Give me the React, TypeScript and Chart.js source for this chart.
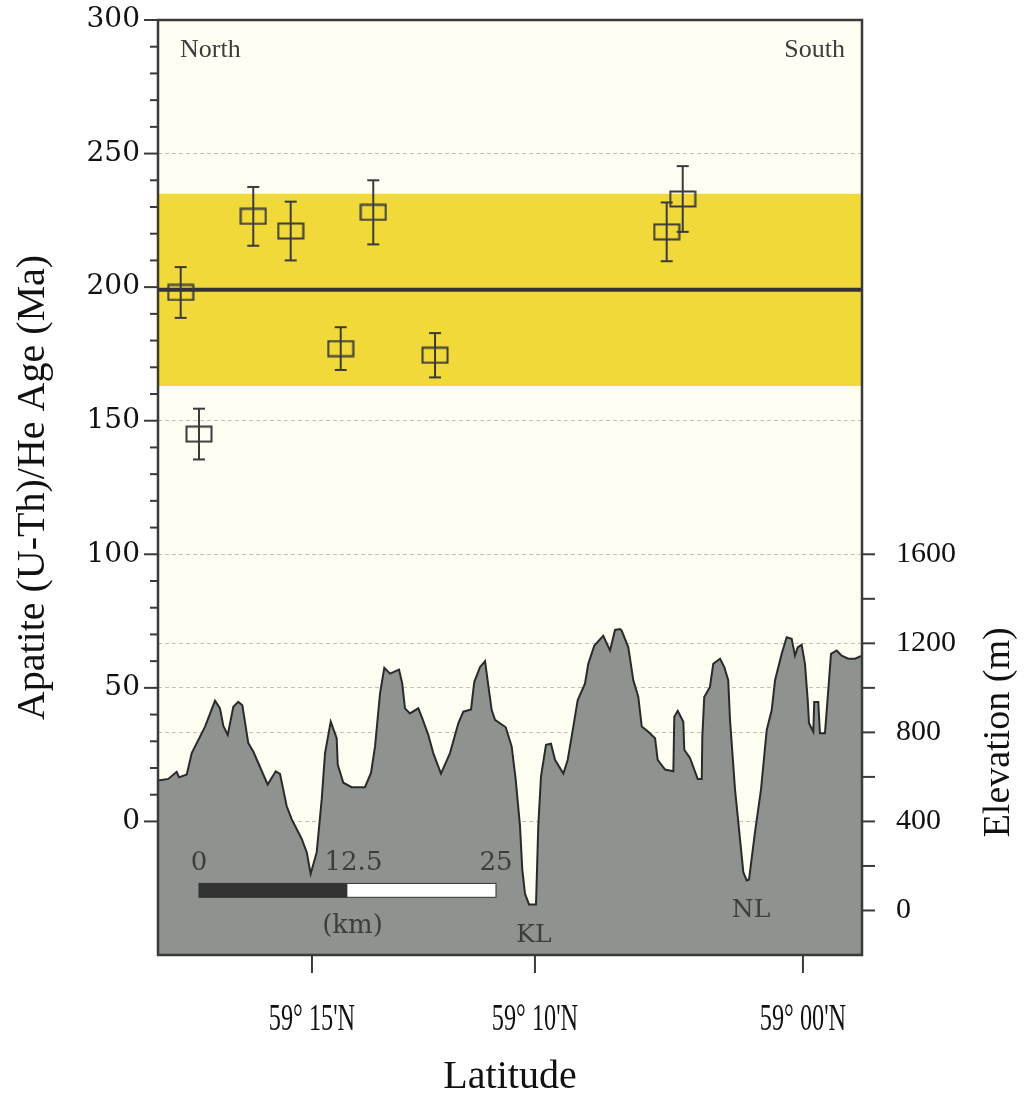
import { useEffect, useRef } from "react";
import { Chart, registerables } from "chart.js";

Chart.register(...registerables);

// ---------------- data ----------------
// (U-Th)/He sample ages: position along profile (km), age (Ma), 1-sigma error (Ma)
const SAMPLE_KM = [1.91, 3.45, 8.02, 11.17, 15.38, 18.12, 23.32, 42.82, 44.17];
const SAMPLE_AGE = [198, 145, 226.5, 221, 177, 228, 174.5, 220.7, 233];
const SAMPLE_ERR = [9.5, 9.5, 11, 11, 8, 12, 8.3, 11, 12.3];

const MEAN_AGE = 199;
const BAND_LOW = 163;
const BAND_HIGH = 235;

// topographic profile: distance (km) and elevation (m)
const PROFILE_KM = [
  0, 0.87, 1.57, 1.77, 2.42, 2.84, 3.96, 4.8, 5.22, 5.5, 5.87, 6.34, 6.76, 7.1, 7.6, 8.02,
  9.23, 9.91, 10.27, 10.83, 11.25, 12.1, 12.52, 12.85, 13.36, 13.78, 14.06, 14.54, 15.04,
  15.13, 15.6, 16.3, 17.42, 17.93, 18.27, 18.69, 19.05, 19.53, 20.29, 20.56, 20.79, 21.21,
  21.91, 22.2, 22.75, 23.17, 23.82, 24.58, 25.28, 25.7, 26.35, 26.62, 27.1, 27.53, 27.8,
  28.09, 28.37, 29.27, 29.77, 30.11, 30.47, 30.66, 30.89, 31.23, 31.82, 32.01, 32.24, 32.66,
  33.08, 33.42, 34.12, 34.49, 34.96, 35.33, 35.94, 36.22, 36.73, 37.48, 38.05, 38.47, 38.89,
  39.03, 39.59, 40.01, 40.43, 40.72, 41.27, 41.84, 42.06, 42.68, 43.38, 43.46, 43.75, 44.22,
  44.3, 44.78, 45.43, 45.77, 45.82, 45.98, 46.46, 46.74, 47.31, 47.67, 48.0, 48.15, 48.57,
  49.27, 49.55, 49.75, 50.25, 50.76, 51.24, 51.66, 51.94, 52.5, 52.92, 53.34, 53.62, 53.85,
  54.18, 54.46, 54.69, 54.8, 55.16, 55.24, 55.58, 55.72, 56.14, 56.42, 56.65, 57.13, 57.55,
  58.11, 58.67, 59.26,
];
const PROFILE_ELEV = [
  584, 591, 623, 598, 611, 707, 826, 942, 908, 829, 789, 915, 937, 922, 752, 714,
  566, 625, 614, 469, 410, 321, 262, 165, 262, 499, 707, 848, 774,
  655, 574, 554, 554, 618, 737, 975, 1090, 1064, 1082, 1019, 908, 885,
  908, 870, 789, 707, 615, 707, 841, 893, 903, 1026, 1093, 1120, 1012,
  900, 856, 823, 737, 588, 380, 187, 76, 27, 27, 380, 603, 744,
  749, 677, 615, 677, 826, 945, 1019, 1108, 1190, 1234, 1168, 1260, 1264,
  1257, 1182, 1034, 959, 826, 803, 774, 677, 633, 625, 870, 897, 848,
  722, 685, 591, 591, 781, 959, 1004, 1108, 1131, 1093, 1034, 856, 544,
  172, 135, 139, 351, 544, 811, 900, 1034, 1153, 1227, 1220, 1145, 1182,
  1194, 1108, 945, 841, 803, 937, 937, 796, 796, 989, 1153, 1168, 1145,
  1131, 1131, 1145,
];

// axes
const X_MIN = 0;
const X_MAX = 59.26;
const AGE_MIN = -50;
const AGE_MAX = 300;
const ELEV_MIN = -200;
const ELEV_MAX = 4000;
const LAT_TICK_KM = [12.96, 31.73, 54.29];
const LAT_TICK_LABELS = ["59° 15'N", "59° 10'N", "59° 00'N"];
const AGE_TICK_LABELS = [0, 50, 100, 150, 200, 250, 300];
const ELEV_TICK_LABELS = [0, 400, 800, 1200, 1600];
const SCALE_BAR_LABELS = [0, 12.5, 25];

const SERIF = '"Liberation Serif", "Times New Roman", serif';
const WIDE_SERIF = '"DejaVu Serif", serif';
const INK = "#3a3a3a";
const GRID = "#c4c1b6";

export default function App() {
  const ref = useRef<HTMLCanvasElement>(null);

  useEffect(() => {
    const canvas = ref.current;
    if (!canvas) return;

    // open rectangular marker
    const box = document.createElement("canvas");
    box.width = 28;
    box.height = 18;
    const bctx = box.getContext("2d")!;
    bctx.strokeStyle = INK;
    bctx.lineWidth = 2;
    bctx.strokeRect(1.5, 1.5, 25, 15);

    Chart.defaults.color = "#111";

    const line = (ctx: CanvasRenderingContext2D, x1: number, y1: number, x2: number, y2: number) => {
      ctx.beginPath();
      ctx.moveTo(x1, y1);
      ctx.lineTo(x2, y2);
      ctx.stroke();
    };

    const decorations = {
      id: "decorations",
      beforeDraw(chart: any) {
        const { ctx, chartArea: a } = chart;
        ctx.save();
        ctx.fillStyle = "#ffffff";
        ctx.fillRect(0, 0, chart.width, chart.height);
        ctx.fillStyle = "#fffef2";
        ctx.fillRect(a.left, a.top, a.right - a.left, a.bottom - a.top);
        ctx.restore();
      },
      afterDatasetsDraw(chart: any) {
        const { ctx, chartArea: a } = chart;
        const xs = chart.scales.x;
        const ys = chart.scales.y;
        const ye = chart.scales.y1;
        ctx.save();

        // error bars
        ctx.strokeStyle = INK;
        ctx.lineWidth = 2;
        SAMPLE_KM.forEach((km, i) => {
          const px = xs.getPixelForValue(km);
          const top = ys.getPixelForValue(SAMPLE_AGE[i] + SAMPLE_ERR[i]);
          const bot = ys.getPixelForValue(SAMPLE_AGE[i] - SAMPLE_ERR[i]);
          line(ctx, px, top, px, bot);
          line(ctx, px - 6, top, px + 6, top);
          line(ctx, px - 6, bot, px + 6, bot);
        });

        // scale bar
        const barStart = 3.45;
        const bx0 = xs.getPixelForValue(barStart);
        const bx1 = xs.getPixelForValue(barStart + SCALE_BAR_LABELS[1]);
        const bx2 = xs.getPixelForValue(barStart + SCALE_BAR_LABELS[2]);
        const byT = ys.getPixelForValue(-23.2);
        const byB = ys.getPixelForValue(-28.4);
        ctx.fillStyle = "#333";
        ctx.fillRect(bx0, byT, bx1 - bx0, byB - byT);
        ctx.fillStyle = "#ffffff";
        ctx.fillRect(bx1, byT, bx2 - bx1, byB - byT);
        ctx.lineWidth = 1;
        ctx.strokeStyle = "#333";
        ctx.strokeRect(bx0, byT, bx2 - bx0, byB - byT);

        ctx.fillStyle = "#3d3d3d";
        ctx.font = `26px ${WIDE_SERIF}`;
        ctx.textAlign = "center";
        ctx.textBaseline = "middle";
        const lblY = byT - 20;
        ctx.fillText(String(SCALE_BAR_LABELS[0]), bx0, lblY);
        ctx.fillText(String(SCALE_BAR_LABELS[1]), bx1 + 6, lblY);
        ctx.fillText(String(SCALE_BAR_LABELS[2]), bx2, lblY);
        ctx.fillText("(km)", (bx0 + bx2) / 2 + 5, byB + 29);

        ctx.font = `25px ${WIDE_SERIF}`;
        ctx.fillText("KL", xs.getPixelForValue(31.65), ys.getPixelForValue(-42.6));
        ctx.fillText("NL", xs.getPixelForValue(49.92), ys.getPixelForValue(-33.3));

        ctx.font = `26px ${SERIF}`;
        ctx.textAlign = "left";
        ctx.fillText("North", xs.getPixelForValue(1.85), ys.getPixelForValue(288.8));
        ctx.textAlign = "right";
        ctx.fillText("South", xs.getPixelForValue(57.83), ys.getPixelForValue(288.8));

        // frame
        ctx.strokeStyle = INK;
        ctx.lineWidth = 2.5;
        ctx.strokeRect(a.left, a.top, a.right - a.left, a.bottom - a.top);

        // tick marks
        ctx.lineWidth = 2;
        ys.ticks.forEach((t: any) => {
          if (t.value < 0) return;
          const y = ys.getPixelForValue(t.value);
          const len = Math.round(t.value) % 50 === 0 ? 14 : 8;
          line(ctx, a.left - len, y, a.left, y);
        });
        ye.ticks.forEach((t: any) => {
          if (t.value < 0 || t.value > 1600) return;
          const y = ye.getPixelForValue(t.value);
          line(ctx, a.right, y, a.right + 13, y);
        });
        xs.ticks.forEach((t: any, i: number) => {
          const x = xs.getPixelForValue(t.value);
          line(ctx, x, a.bottom, x, a.bottom + 18);
          // condensed latitude labels
          ctx.save();
          ctx.translate(x, a.bottom + 65);
          ctx.scale(0.64, 1);
          ctx.fillStyle = "#111";
          ctx.font = `38px ${SERIF}`;
          ctx.textAlign = "center";
          ctx.textBaseline = "middle";
          ctx.fillText(LAT_TICK_LABELS[i] ?? "", 0, 0);
          ctx.restore();
        });

        // right axis title
        ctx.save();
        ctx.translate(999, ye.getPixelForValue(800));
        ctx.rotate(-Math.PI / 2);
        ctx.fillStyle = "#111";
        ctx.font = `38px ${SERIF}`;
        ctx.textAlign = "center";
        ctx.textBaseline = "middle";
        ctx.fillText("Elevation (m)", 0, 0);
        ctx.restore();

        ctx.restore();
      },
    };

    const chart = new Chart(canvas, {
      type: "line",
      data: {
        datasets: [
          {
            label: "Apatite (U-Th)/He age",
            data: SAMPLE_KM.map((x, i) => ({ x, y: SAMPLE_AGE[i] })),
            showLine: false,
            pointStyle: box as any,
            pointRadius: 10,
            yAxisID: "y",
            order: 0,
          },
          {
            label: "Mean age",
            data: [
              { x: X_MIN, y: MEAN_AGE },
              { x: X_MAX, y: MEAN_AGE },
            ],
            borderColor: "#333333",
            borderWidth: 4,
            pointRadius: 0,
            yAxisID: "y",
            order: 1,
          },
          {
            label: "Age range",
            data: [
              { x: X_MIN, y: BAND_HIGH },
              { x: X_MAX, y: BAND_HIGH },
            ],
            borderColor: "rgba(0,0,0,0)",
            borderWidth: 1,
            backgroundColor: "#f1d93a",
            fill: { value: BAND_LOW },
            pointRadius: 0,
            yAxisID: "y",
            order: 3,
          },
          {
            label: "Elevation",
            data: PROFILE_KM.map((x, i) => ({ x, y: PROFILE_ELEV[i] })),
            borderColor: "#2a2a2a",
            borderWidth: 2,
            backgroundColor: "#8f9390",
            fill: "start",
            pointRadius: 0,
            tension: 0,
            yAxisID: "y1",
            order: 2,
          },
        ] as any,
      },
      plugins: [decorations],
      options: {
        responsive: false,
        animation: false,
        devicePixelRatio: 1,
        events: [],
        layout: { padding: { top: 20, left: 0, right: 0, bottom: 0 } },
        plugins: {
          legend: { display: false },
          tooltip: { enabled: false },
        },
        scales: {
          x: {
            type: "linear",
            position: "bottom",
            min: X_MIN,
            max: X_MAX,
            grid: { display: false },
            border: { display: false },
            ticks: { display: false },
            afterBuildTicks: (scale: any) => {
              scale.ticks = LAT_TICK_KM.map((v) => ({ value: v }));
            },
            afterFit: (scale: any) => {
              scale.height = 146;
              scale.paddingLeft = 0;
              scale.paddingRight = 0;
            },
            title: {
              display: true,
              text: "Latitude",
              color: "#111",
              font: { family: SERIF, size: 40 },
              padding: { top: 0, bottom: 0 },
            },
          },
          y: {
            type: "linear",
            position: "left",
            min: AGE_MIN,
            max: AGE_MAX,
            grid: {
              drawTicks: false,
              lineWidth: 1,
              color: (c: any) => {
                const v = c.tick ? Math.round(c.tick.value) : NaN;
                return v > AGE_MIN && v < AGE_MAX && v % 50 === 0 ? GRID : "rgba(0,0,0,0)";
              },
            },
            border: { display: false, dash: [4, 3] },
            ticks: {
              stepSize: 10,
              autoSkip: false,
              padding: 18,
              color: "#111",
              font: { family: WIDE_SERIF, size: 28 },
              callback: (v: any) => (AGE_TICK_LABELS.includes(Math.round(v)) ? String(Math.round(v)) : ""),
            },
            afterFit: (scale: any) => {
              scale.width = 158;
              scale.paddingTop = 0;
              scale.paddingBottom = 0;
            },
            title: {
              display: true,
              text: "Apatite (U-Th)/He Age (Ma)",
              color: "#111",
              font: { family: SERIF, size: 40 },
              padding: { top: 9, bottom: 0 },
            },
          },
          y1: {
            type: "linear",
            position: "right",
            min: ELEV_MIN,
            max: ELEV_MAX,
            grid: {
              drawTicks: false,
              lineWidth: 1,
              color: (c: any) => {
                const v = c.tick ? Math.round(c.tick.value) : NaN;
                return v > 400 && v < 1600 && v % 400 === 0 ? GRID : "rgba(0,0,0,0)";
              },
            },
            border: { display: false, dash: [4, 3] },
            ticks: {
              stepSize: 200,
              autoSkip: false,
              padding: 34,
              color: "#111",
              font: { family: SERIF, size: 30 },
              callback: (v: any) => (ELEV_TICK_LABELS.includes(Math.round(v)) ? String(Math.round(v)) : ""),
            },
            afterFit: (scale: any) => {
              scale.width = 165;
              scale.paddingTop = 0;
              scale.paddingBottom = 0;
            },
          },
        },
      } as any,
    });

    return () => chart.destroy();
  }, []);

  return (
    <div style={{ position: "fixed", left: 0, top: 0, width: 1027, height: 1101, background: "#fff" }}>
      <canvas ref={ref} width={1027} height={1101} style={{ display: "block", width: 1027, height: 1101 }} />
    </div>
  );
}
